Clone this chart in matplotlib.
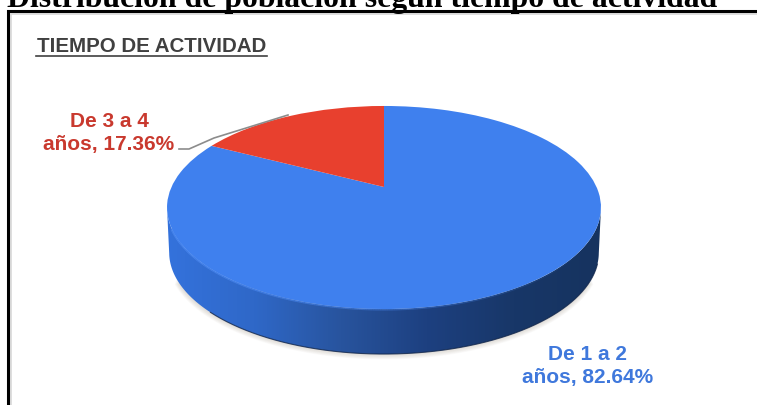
import numpy as np
import matplotlib
matplotlib.use("Agg")
import matplotlib.pyplot as plt
from matplotlib.transforms import Transform
from matplotlib.patches import PathPatch
from matplotlib.path import Path
from matplotlib.colors import LinearSegmentedColormap

categories = ["De 1 a 2\naños, 82.64%", "De 3 a 4\naños, 17.36%"]
values = [82.64, 17.36]
colors = ["#3F80EE", "#E8402E"]
title = "Distribución de población según tiempo de actividad"
subtitle = "TIEMPO DE ACTIVIDAD"

W, H = 757, 406
fig = plt.figure(figsize=(W / 100, H / 100), dpi=100)
ax = fig.add_axes([0, 0, 1, 1])


class Tilt(Transform):
    """Perspective view of the unit disc, output in image pixels."""
    input_dims = output_dims = 2
    has_inverse = False
    is_affine = False

    def __init__(self, dy=0.0, sx=1.0):
        super().__init__()
        self.dy = dy
        self.sx = sx

    def transform_non_affine(self, v):
        v = np.asarray(v, float)
        c, a, rx = 0.202, 97.4, 212.5
        d = 1 + c * v[:, 1]
        return np.column_stack([384 + self.sx * rx * v[:, 0] / d,
                                188 + self.dy - a * v[:, 1] / d])


t = np.linspace(0, 2 * np.pi, 721)
circle = np.column_stack([np.cos(t), np.sin(t)])
top = Tilt().transform_non_affine(circle)
low = Tilt(45, 0.99).transform_non_affine(circle)
t0 = np.pi + np.arcsin(0.202)
t1 = 2 * np.pi - np.arcsin(0.202)
lower = (t >= t0) & (t <= t1)
shadow_part = (t >= t0 + 0.25) & (t <= t1 - 0.25)

# soft shadow below the disc (front part only)
for off in np.linspace(9, 1, 9):
    sh = Tilt(45 + off * 0.6, 0.99 + off * 0.001).transform_non_affine(circle[shadow_part])
    ax.fill(sh[:, 0], sh[:, 1], color="#B8AE9E", alpha=0.05, lw=0, zorder=1)

# side wall with horizontal gradient
body = np.vstack([top[lower], low[lower][::-1]])
side_patch = PathPatch(Path(np.vstack([body, body[:1]]), closed=True),
                       fc="none", ec="none", transform=ax.transData)
ax.add_patch(side_patch)
cmap = LinearSegmentedColormap.from_list(
    "side", ["#3472DC", "#2F68C8", "#28549E", "#1D4080", "#183768", "#16335F"])
im = ax.imshow(np.linspace(0, 1, 256)[None, :], cmap=cmap, aspect="auto",
               extent=(167, 601, 360, 190), zorder=2)
im.set_clip_path(side_patch)

# dark rim along the lower edge
front = low[(t >= np.pi * 1.25) & (t <= np.pi * 1.9)]
ax.plot(front[:, 0], front[:, 1], color="#12264A", lw=0.8, alpha=0.8, zorder=3)

# pie through the library, then laid onto the tilted disc
wedges, _ = ax.pie(values, colors=colors, startangle=90, counterclock=False,
                   radius=1, wedgeprops=dict(lw=0))
tilt = Tilt()
for w in wedges:
    w.set_transform(tilt + ax.transData)
    w.set_zorder(4)

# soft bevel along the front edge of the top face, fading to the right
t_start = t0 + 0.2
idx = np.where((t > t_start) & (t < np.pi * 1.8))[0]
for i0, i1 in zip(idx[:-1], idx[1:]):
    fade = max(0.0, 1 - (t[i0] - t_start) / (np.pi * 1.8 - t_start))
    ax.plot(top[[i0, i1], 0], top[[i0, i1], 1], color="#4A88F0", lw=2.2,
            alpha=0.9 * fade, solid_capstyle="butt", zorder=3.5)

ax.set_aspect("auto")
ax.set_xlim(0, W)
ax.set_ylim(H, 0)
ax.axis("off")

# frame: left and top rules, with a faint grey inner edge
ax.plot([10.5, 10.5, W + 5], [H + 5, 14.5, 14.5], color="#D8D8D8", lw=1.2,
        solid_joinstyle="miter", zorder=6)
ax.plot([8, 8, W + 5], [H + 5, 12, 12], color="black", lw=2.2,
        solid_joinstyle="miter", zorder=6)

# title, clipped by the top of the image as in the source
ax.text(7, 7.5, title, family="Liberation Serif", weight="bold",
        fontsize=22.9, color="black", va="baseline", ha="left", zorder=7)

# inner heading
ax.text(37, 47, subtitle, family="Liberation Sans", weight="bold",
        fontsize=14.8, color="#404040", va="center", ha="left", zorder=7)
ax.plot([36, 267], [57, 57], color="#404040", lw=1.2, zorder=7)

# labels
ax.text(109, 133, categories[1], family="Liberation Sans", weight="bold",
        fontsize=15, color="#C9392E", ha="center", va="center",
        linespacing=1.3, zorder=7)
ax.text(588, 366, categories[0], family="Liberation Sans", weight="bold",
        fontsize=15, color="#3F78DC", ha="center", va="center",
        linespacing=1.3, zorder=7)

# leader line
ax.plot([179, 189, 214, 288], [150, 150, 139, 116], color="#8C8C8C", lw=1.2, zorder=5)

fig.savefig("out.png", dpi=100)
